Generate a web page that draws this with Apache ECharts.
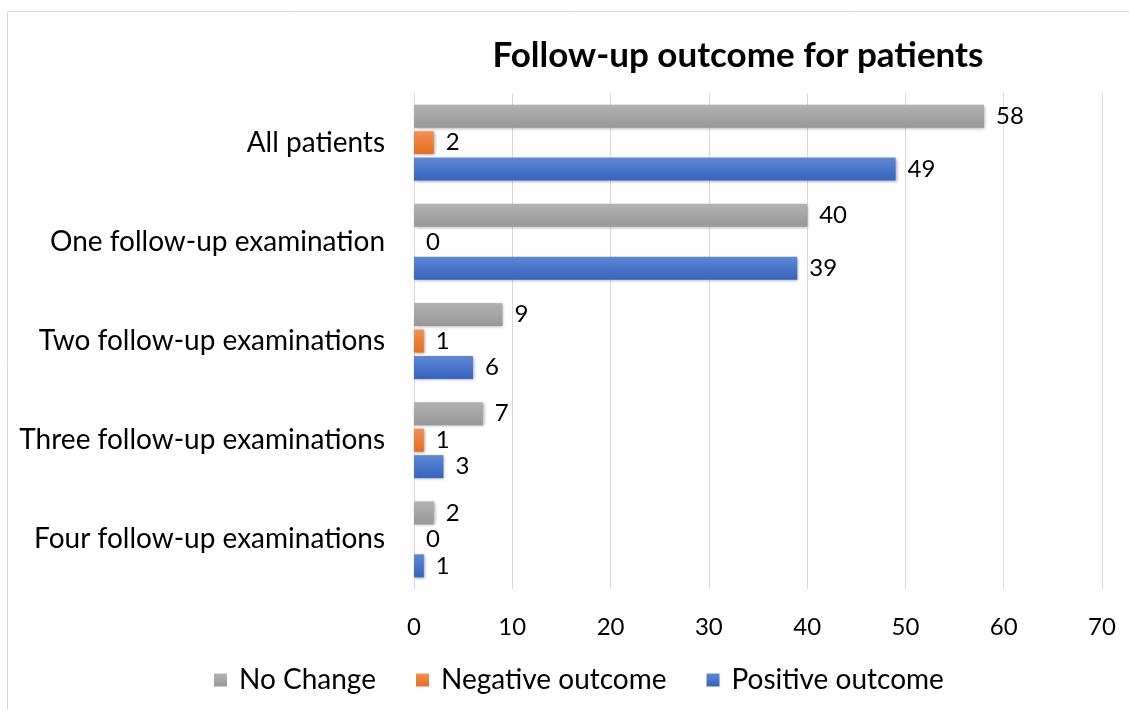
<!DOCTYPE html>
<html>
<head>
<meta charset="utf-8">
<script src="https://cdn.jsdelivr.net/npm/echarts@6/dist/echarts.min.js"></script>
<style>
html,body{margin:0;padding:0;background:#fff;}
#c{width:1129px;height:709px;}
</style>
</head>
<body>
<div id="c"></div>
<script>
const categories = ["All patients", "One follow-up examination", "Two follow-up examinations", "Three follow-up examinations", "Four follow-up examinations"];
const seriesNames = ["No Change", "Negative outcome", "Positive outcome"];
const noChange = [58, 40, 9, 7, 2];
const negative = [2, 0, 1, 1, 0];
const positive = [49, 39, 6, 3, 1];
const xTicks = [0, 10, 20, 30, 40, 50, 60, 70];

const FONT = "Lato, 'Open Sans', sans-serif";
function grad(top, bottom) {
  return new echarts.graphic.LinearGradient(0, 0, 0, 1, [{offset: 0, color: top}, {offset: 1, color: bottom}]);
}
const colors = [["#b2b2b2", "#989898", "#a5a5a5"], ["#f39150", "#e66c22", "#ed7d31"], ["#5e88d6", "#3563be", "#4472c4"]];
const dataSets = [noChange, negative, positive];

const chart = echarts.init(document.getElementById('c'), null, {renderer: 'canvas'});
chart.setOption({
  animation: false,
  backgroundColor: '#fff',
  textStyle: {fontFamily: FONT},
  title: {
    text: 'Follow-up outcome for patients',
    left: 733, top: 33, textAlign: 'center',
    textStyle: {fontFamily: FONT, fontWeight: 'bold', fontSize: 35, color: '#000'}
  },
  graphic: [{
    type: 'rect', left: 5, top: 9, z: -1,
    shape: {width: 1140, height: 720},
    style: {fill: 'none', stroke: '#d9d9d9', lineWidth: 1}
  }],
  legend: {
    data: seriesNames,
    left: 209, top: 661,
    itemWidth: 13, itemHeight: 13, itemGap: 40,
    icon: 'rect',
    textStyle: {fontFamily: FONT, fontSize: 28, color: '#000', padding: [0, 0, 0, 7]}
  },
  grid: {left: 414, right: 27, top: 93, bottom: 120, containLabel: false},
  xAxis: {
    type: 'value', min: 0, max: 70, interval: 10,
    axisLine: {show: false}, axisTick: {show: false},
    splitLine: {show: true, lineStyle: {color: '#d9d9d9', width: 1}},
    axisLabel: {
      fontFamily: FONT, fontSize: 24, color: '#000', margin: 26,
      formatter: function (v) { return xTicks.indexOf(v) >= 0 ? String(v) : ''; }
    }
  },
  yAxis: {
    type: 'category', data: categories, inverse: true,
    axisLine: {show: false}, axisTick: {show: false},
    axisLabel: {fontFamily: FONT, fontSize: 28, color: '#000', margin: 29}
  },
  series: seriesNames.map(function (name, i) {
    return {
      name: name, type: 'bar', data: dataSets[i],
      barWidth: 23, barGap: '15%',
      itemStyle: {
        color: grad(colors[i][0], colors[i][1]),
        shadowColor: 'rgba(0,0,0,0.35)', shadowBlur: 3, shadowOffsetX: 1, shadowOffsetY: 1
      },
      label: {
        show: true, position: 'right', distance: 12,
        fontFamily: FONT, fontSize: 24, color: '#000'
      },
      color: colors[i][2]
    };
  })
});
</script>
</body>
</html>
